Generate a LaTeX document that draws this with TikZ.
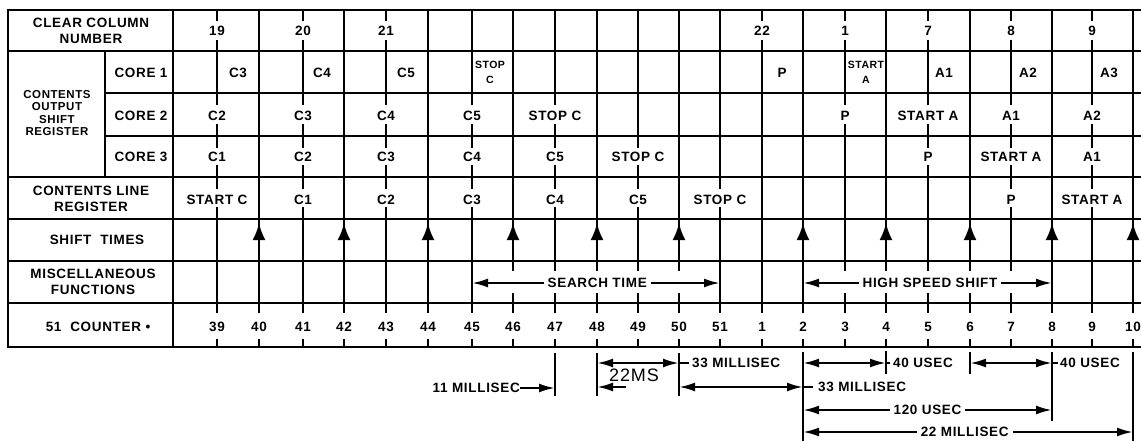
\documentclass[tikz,border=0pt]{standalone}
\usepackage{fontspec}
\setmainfont{Liberation Sans}[LetterSpace=5]
\usetikzlibrary{arrows.meta}
\def\XS{{217,259,303,344,386,428,472,513,555,597,638,679,720,762,803,845,886,928,970,1011,1052,1092,1133}}
\newcommand\vfull[3]{\foreach \k in {#3}{\pgfmathsetmacro\xx{\XS[\k]}\draw[grid] (\xx,#1) -- (\xx,#2);}}
\newcommand\vtick[4]{\foreach \k in {#3}{\pgfmathsetmacro\xx{\XS[\k]}\draw[grid] (\xx,#1) -- (\xx,#1+#4) (\xx,#2-#4) -- (\xx,#2);}}
\newcommand\rowtext[2]{\foreach \k/\t in {#2}{\pgfmathsetmacro\xx{\XS[\k]}\node[lbl] (r#1k\k) at (\xx,#1) {\t};}}
\begin{document}
\begin{tikzpicture}[x=1pt,y=-1pt,
  grid/.style={line width=2.6pt},
  ann/.style={line width=2.3pt},
  lbl/.style={font=\fontsize{13.5}{16}\selectfont\bfseries, inner sep=0pt, align=center},
  small/.style={font=\fontsize{10.5}{15}\selectfont\bfseries, inner sep=0pt, align=center},
  mid/.style={font=\fontsize{11.5}{12.4}\selectfont\bfseries, inner sep=0pt, align=center},
  hand/.style={font=\fontsize{18}{18}\selectfont, inner sep=0pt},
  dimarr/.style={ann, arrows={Latex[length=16pt,width=9pt]-Latex[length=16pt,width=9pt]}},
  onearr/.style={ann, arrows={-Latex[length=16pt,width=9pt]}},
  shiftarr/.style={grid, arrows={-Latex[length=17pt,width=13pt]}},
  wlbl/.style={lbl, fill=white, inner xsep=4pt, inner ysep=2pt}]
\useasboundingbox (0,0) rectangle (1141,441);
\fill[white] (0,0) rectangle (1141,441);

% ---------- horizontal rules ----------
\draw[grid] (8,10) -- (1141,10);
\draw[grid] (8,51) -- (1141,51);
\draw[grid] (105,93) -- (1141,93);
\draw[grid] (105,136) -- (1141,136);
\draw[grid] (8,177) -- (1141,177);
\draw[grid] (8,219) -- (1141,219);
\draw[grid] (8,261) -- (1141,261);
\draw[grid] (8,303) -- (1141,303);
\draw[grid] (8,347) -- (1141,347);
% ---------- label column rules ----------
\draw[grid] (8,8.7) -- (8,348.3);
\draw[grid] (173,10) -- (173,347);
\draw[grid] (105,51) -- (105,177);

% ---------- vertical rules per row ----------
% header
\vtick{10}{51}{0,2,4,13,15,17,19,21}{11}
\vfull{10}{51}{1,3,5,6,7,8,9,10,11,12,14,16,18,20,22}
% core 1
\vfull{51}{93}{0,...,22}
% core 2
\vtick{93}{136}{0,2,4,6,8,15,17,19,21}{12}
\vfull{93}{136}{1,3,5,7,9,10,11,12,13,14,16,18,20,22}
% core 3
\vtick{136}{177}{0,2,4,6,8,10,17,19,21}{12}
\vfull{136}{177}{1,3,5,7,9,11,12,13,14,15,16,18,20,22}
% line register
\vtick{177}{219}{0,2,4,6,8,10,12,19,21}{12}
\vfull{177}{219}{1,3,5,7,9,11,13,14,15,16,17,18,20,22}
% shift times
\vfull{219}{261}{0,...,22}
\foreach \k in {1,3,5,7,9,11,14,16,18,20,22}{\pgfmathsetmacro\xx{\XS[\k]}\draw[shiftarr] (\xx,261) -- (\xx,223);}
% misc
\vtick{261}{303}{7,8,9,10,11,15,16,17,18,19}{10}
\vfull{261}{303}{0,1,2,3,4,5,6,12,13,14,20,21,22}
% counter
\foreach \k in {0,...,22}{\pgfmathsetmacro\xx{\XS[\k]}\draw[grid] (\xx,303) -- (\xx,313) (\xx,339) -- (\xx,347);}

% ---------- left labels ----------
\node[lbl] (clr) at (91,31) {CLEAR COLUMN\\NUMBER};
\node[mid] (cosr) at (57,113) {CONTENTS\\OUTPUT\\SHIFT\\REGISTER};
\node[lbl] (core1) at (141,73) {CORE 1};
\node[lbl] (core2) at (141,116) {CORE 2};
\node[lbl] (core3) at (141,157) {CORE 3};
\node[lbl] (clreg) at (91,199) {CONTENTS LINE\\REGISTER};
\node[lbl] (shift) at (97,240) {SHIFT\ \ TIMES};
\node[lbl] (misc) at (93,282) {MISCELLANEOUS\\FUNCTIONS};
\node[lbl] (cnt) at (98,327) {51\ \ COUNTER \textbullet};

% ---------- row contents ----------
\rowtext{31}{0/19,2/20,4/21,13/22,15/1,17/7,19/8,21/9}
\node[lbl] (a1) at (238,73) {C3};
\node[lbl] (a2) at (322,73) {C4};
\node[lbl] (a3) at (406,73) {C5};
\node[small] (a4) at (490,72) {STOP\\C};
\node[lbl] (a5) at (782,73) {P};
\node[small] (a6) at (866,72) {START\\A};
\node[lbl] (a7) at (944,73) {A1};
\node[lbl] (a8) at (1028,73) {A2};
\node[lbl] (a9) at (1109,73) {A3};
\rowtext{116}{0/C2,2/C3,4/C4,6/C5,8/STOP C,15/P,17/START A,19/A1,21/A2}
\rowtext{157}{0/C1,2/C2,4/C3,6/C4,8/C5,10/STOP C,17/P,19/START A,21/A1}
\rowtext{200}{0/START C,2/C1,4/C2,6/C3,8/C4,10/C5,12/STOP C,19/P,21/START A}
\rowtext{327}{0/39,1/40,2/41,3/42,4/43,5/44,6/45,7/46,8/47,9/48,10/49,11/50,12/51,13/1,14/2,15/3,16/4,17/5,18/6,19/7,20/8,21/9,22/10}

% ---------- misc functions spans ----------
\coordinate (s1) at (472,283); \coordinate (s2) at (720,283);
\draw[dimarr] (s1) -- (s2) node[wlbl, pos=0.505] (search) {SEARCH TIME};
\coordinate (h1) at (803,283); \coordinate (h2) at (1052,283);
\draw[dimarr] (h1) -- (h2) node[wlbl, pos=0.51] (hss) {HIGH SPEED SHIFT};

% ---------- annotations below ----------
% 11 millisec
\draw[ann] (555,353) -- (555,396);
\node[lbl, anchor=east] (ms11) at (520,388) {11 MILLISEC};
\coordinate (e11) at (555,388);
\draw[onearr] (ms11.east) -- (e11);
% 22 ms bracket
\draw[ann] (597,353) -- (597,396);
\draw[ann] (679,353) -- (679,396);
\coordinate (b1) at (597,363); \coordinate (b2) at (679,363);
\draw[dimarr] (b1) -- (b2);
\draw[ann] (b2) -- (689,363);
\node[lbl, anchor=west] (ms33a) at (692,363) {33 MILLISEC};
\coordinate (l1) at (626,387); \coordinate (l2) at (597,387);
\draw[onearr] (l1) -- (l2);
\node[hand] (ms22) at (634,375) {22MS};
% 33 millisec
\coordinate (m1) at (679,387); \coordinate (m2) at (803,387);
\draw[dimarr] (m1) -- (m2);
\draw[ann] (m2) -- (813,387);
\node[lbl, anchor=west] (ms33b) at (818,387) {33 MILLISEC};
% right block
\draw[ann] (803,352) -- (803,441);
\draw[ann] (1133,352) -- (1133,441);
\draw[ann] (1052,352) -- (1052,421);
\draw[ann] (886,351) -- (886,374);
\draw[ann] (970,352) -- (970,374);
\coordinate (u1) at (803,363); \coordinate (u2) at (886,363);
\draw[dimarr] (u1) -- (u2);
\draw[ann] (u2) -- (890,363);
\node[lbl, anchor=west] (us40a) at (893,363) {40 USEC};
\coordinate (u3) at (970,363); \coordinate (u4) at (1052,363);
\draw[dimarr] (u3) -- (u4);
\draw[ann] (u4) -- (1058,363);
\node[lbl, anchor=west] (us40b) at (1060,363) {40 USEC};
\coordinate (v1) at (803,410); \coordinate (v2) at (1052,410);
\draw[dimarr] (v1) -- (v2) node[wlbl, midway] (us120) {120 USEC};
\coordinate (w1) at (803,432); \coordinate (w2) at (1133,432);
\draw[dimarr] (w1) -- (w2) node[wlbl, pos=0.49] (ms22b) {22 MILLISEC};
\end{tikzpicture}
\end{document}
